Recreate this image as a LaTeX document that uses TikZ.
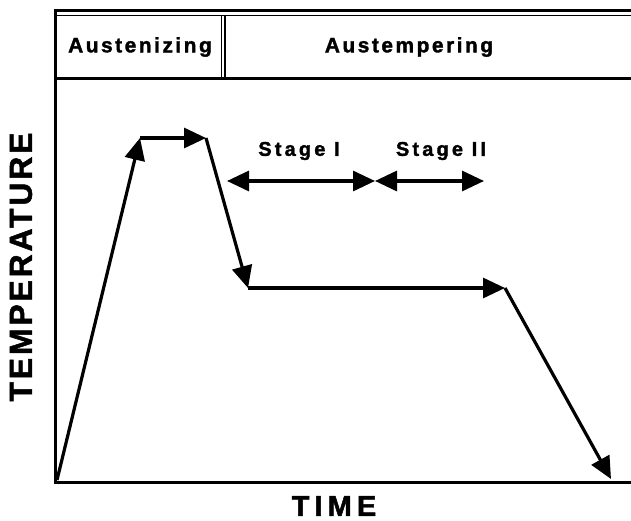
\documentclass[tikz,border=0pt]{standalone}
\usepackage{fontspec}
\setmainfont{Liberation Sans}
\newfontfamily\heavyfont{Liberation Sans}[BoldFeatures={FakeBold=1.6}]
\usepackage{tikz}
\usetikzlibrary{arrows.meta, positioning}

\begin{document}
\begin{tikzpicture}[x=1bp, y=-1bp,
    >={Triangle[length=22bp, width=20bp]},
    frame/.style={line width=3bp},
    thinframe/.style={line width=1.5bp},
    course/.style={line width=3.2bp, ->},
    stagearrow/.style={line width=3.2bp, <->},
    heading/.style={font=\heavyfont\fontsize{21}{24}\selectfont\bfseries\addfontfeature{LetterSpace=12}},
    stagelabel/.style={font=\heavyfont\fontsize{20}{22}\selectfont\bfseries\addfontfeature{LetterSpace=16}},
    axislabel/.style={font=\heavyfont\fontsize{32}{36}\selectfont\bfseries\addfontfeature{LetterSpace=9}},
    timelabel/.style={font=\heavyfont\fontsize{29}{32}\selectfont\bfseries\addfontfeature{LetterSpace=18}}]
  \useasboundingbox (0,0) rectangle (631,521);

  % Rahmen und Kopfzeile
  \draw[frame] (55,10.5) -- (631,10.5);
  \draw[thinframe] (55,15.5) -- (631,15.5);
  \draw[frame] (55,9) -- (55,483.5);
  \draw[frame] (55,78.5) -- (631,78.5);
  \draw[frame] (55,482) -- (631,482);
  \draw[thinframe] (221.5,15.5) -- (221.5,78.5);
  \draw[thinframe] (225,15.5) -- (225,78.5);

  \node[heading] (austen) at (140,47) {Austenizing};
  \node[heading] (austemp) at (409,47) {Austempering};

  % Temperaturverlauf
  \coordinate (start) at (57,480);
  \coordinate (heat) at (140,138);
  \coordinate (hold) at (206,138);
  \coordinate (quench) at (248,288);
  \coordinate (iso) at (505,288);
  \coordinate (cool) at (611,479);
  \draw[course] (start) -- (heat);
  \draw[course] (heat) -- (hold);
  \draw[course] (hold) -- (quench);
  \draw[course] (quench) -- (iso);
  \draw[course] (iso) -- (cool);

  % Stufen
  \coordinate (s1a) at (227,181);
  \coordinate (s1b) at (375,181);
  \coordinate (s2b) at (484,181);
  \draw[stagearrow] (s1a) -- (s1b);
  \draw[stagearrow] (s1b) -- (s2b);
  \node[stagelabel] (stage1) at (299,151) {Stage I};
  \node[stagelabel] (stage2) at (441,151) {Stage II};

  % Achsen
  \node[axislabel, rotate=90] (temp) at (21,267) {TEMPERATURE};
  \node[timelabel] (time) at (334,506) {TIME};
\end{tikzpicture}
\end{document}
